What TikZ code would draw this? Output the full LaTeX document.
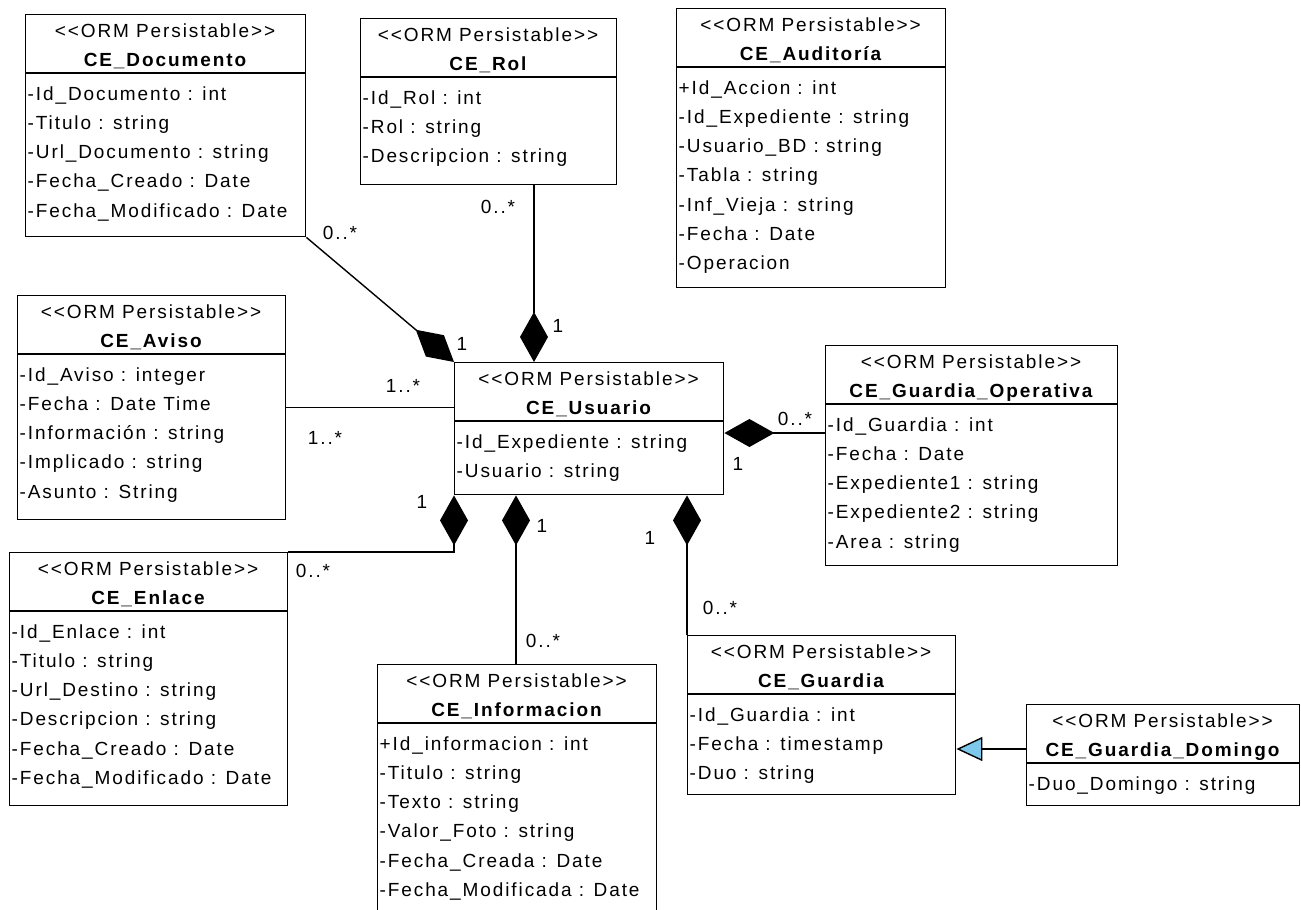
\documentclass[tikz,border=0pt]{standalone}
\usepackage{fontspec}
\setmainfont{Liberation Sans}
\newfontfamily\umlfont[LetterSpace=10]{Liberation Sans}
\usetikzlibrary{arrows.meta}
\definecolor{triblue}{RGB}{125,200,235}
\tikzset{
  classbox/.style={draw, line width=1.4pt, inner sep=0pt, anchor=north west},
  sepline/.style={line width=1.4pt},
  txt/.style={inner sep=0pt, font=\umlfont\fontsize{19}{21}\selectfont},
  stereo/.style={txt, anchor=base},
  ctitle/.style={txt, anchor=base, font=\umlfont\fontsize{19}{21}\selectfont\bfseries},
  attr/.style={txt, anchor=base west},
  mult/.style={txt},
  link/.style={line width=1.4pt},
  comp/.style={link, {Diamond[length=50pt,width=28pt,fill=black]}-},
  inherit/.style={link, -{Triangle[length=26pt,width=24pt,fill=triblue]}},
}
% #1 name, #2 left, #3 top, #4 right, #5 bottom, #6 class name, #7 attributes
\newcommand\umlclass[7]{%
  \node[classbox, minimum width={(#4-#2)*1pt}, minimum height={(#5-#3)*1pt}] (#1) at (#2,#3) {};
  \draw[sepline] (#2,#3+59) -- (#4,#3+59);
  \node[stereo] (#1-st) at ({(#2+#4)/2},#3+23.5) {<{}<ORM Persistable>{}>};
  \node[ctitle] (#1-tt) at ({(#2+#4)/2},#3+52) {#6};
  \foreach \ctext [count=\ci] in {#7} {%
    \node[attr] (#1-a\ci) at (#2+2.5,{#3+59+20+(\ci-1)*29.3+7}) {\ctext};}
}
\begin{document}
\begin{tikzpicture}[x=1pt,y=-1pt]
\useasboundingbox (0,0) rectangle (1301,910);
\fill[white] (0,0) rectangle (1301,910);
\clip (0,0) rectangle (1301,910);

% classes
\umlclass{doc}{25}{14}{305}{236}{CE\_Documento}{-Id\_Documento : int, -Titulo : string, -Url\_Documento : string, -Fecha\_Creado : Date, -Fecha\_Modificado : Date}
\umlclass{rol}{360}{18}{616}{184}{CE\_Rol}{-Id\_Rol : int, -Rol : string, -Descripcion : string}
\umlclass{aud}{676}{8}{945}{287}{CE\_Auditoría}{+Id\_Accion : int, -Id\_Expediente : string, -Usuario\_BD : string, -Tabla : string, -Inf\_Vieja : string, -Fecha : Date, -Operacion}
\umlclass{avi}{17}{295}{285}{519}{CE\_Aviso}{-Id\_Aviso : integer, -Fecha : Date Time, -Información : string, -Implicado : string, -Asunto : String}
\umlclass{usr}{454}{362}{723}{494}{CE\_Usuario}{-Id\_Expediente : string, -Usuario : string}
\umlclass{gop}{825}{345}{1117}{565}{CE\_Guardia\_Operativa}{-Id\_Guardia : int, -Fecha : Date, -Expediente1 : string, -Expediente2 : string, -Area : string}
\umlclass{enl}{9}{552}{287}{805}{CE\_Enlace}{-Id\_Enlace : int, -Titulo : string, -Url\_Destino : string, -Descripcion : string, -Fecha\_Creado : Date, -Fecha\_Modificado : Date}
\umlclass{inf}{377}{664}{656}{930}{CE\_Informacion}{+Id\_informacion : int, -Titulo : string, -Texto : string, -Valor\_Foto : string, -Fecha\_Creada : Date, -Fecha\_Modificada : Date}
\umlclass{gua}{687}{635}{955}{794}{CE\_Guardia}{-Id\_Guardia : int, -Fecha : timestamp, -Duo : string}
\umlclass{dom}{1026}{704}{1299}{805}{CE\_Guardia\_Domingo}{-Duo\_Domingo : string}

% helper coordinates for connector positions
\coordinate (rolx) at (534,0);
\coordinate (infx) at (516,0);
\coordinate (gopy) at (0,433);
\coordinate (domy) at (0,749);

% associations
\draw[comp] (usr.north west) -- (doc.south east);
\draw[comp] (usr.north -| rolx) -- (rol.south -| rolx);
\draw[link] (avi.east) -- (usr.west |- avi.east);
\draw[comp] (usr.east |- gopy) -- (gop.west |- gopy);
\draw[comp] (usr.south west) |- (enl.north east);
\draw[comp] (usr.south -| infx) -- (inf.north -| infx);
\draw[comp] (usr.south -| gua.north west) -- (gua.north west);
\draw[inherit] (dom.west |- domy) -- (gua.east |- domy);

% multiplicities
\node[mult] (m-doc) at (340,233) {0..*};
\node[mult] (m-doc1) at (462,344) {1};
\node[mult] (m-rol) at (498,207) {0..*};
\node[mult] (m-rol1) at (558,326) {1};
\node[mult] (m-avi1) at (403,386) {1..*};
\node[mult] (m-avi2) at (325,438) {1..*};
\node[mult] (m-gop) at (795,419) {0..*};
\node[mult] (m-gop1) at (738,464) {1};
\node[mult] (m-enl1) at (422,502) {1};
\node[mult] (m-enl) at (313,571) {0..*};
\node[mult] (m-inf1) at (542,526) {1};
\node[mult] (m-inf) at (543,641) {0..*};
\node[mult] (m-gua1) at (650,538) {1};
\node[mult] (m-gua) at (720,608) {0..*};
\end{tikzpicture}
\end{document}
